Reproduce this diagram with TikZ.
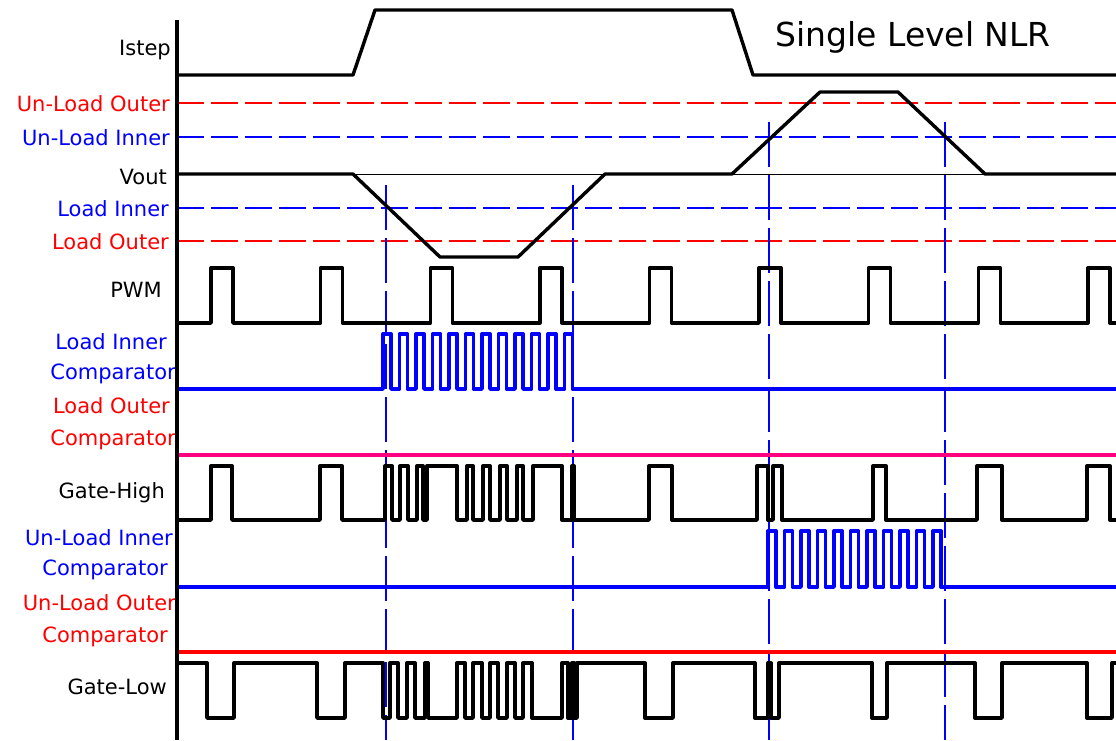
\documentclass[tikz,border=0pt]{standalone}
\usepackage{fontspec}
\setmainfont{DejaVu Sans}
\usetikzlibrary{calc}
\definecolor{cmppink}{RGB}{255,0,128}

\begin{document}
\begin{tikzpicture}[x=1pt,y=-1pt,
  wave/.style={line width=3.4pt,line join=round},
  lvl/.style={line width=1.2pt,dash pattern=on 27pt off 7pt},
  cross/.style={blue,line width=1.2pt,dash pattern=on 45pt off 8pt},
  lbl/.style={anchor=east,inner sep=0pt,font=\fontsize{21}{24}\selectfont}]
  \useasboundingbox (0,0) rectangle (1116,740);

  \node[lbl] (istep) at (171,50) {Istep};
  \node[lbl,red] (ulo) at (170,104) {Un-Load Outer};
  \node[lbl,blue] (uli) at (170,138) {Un-Load Inner};
  \node[lbl] (vout) at (167,177) {Vout};
  \node[lbl,blue] (li) at (169,209) {Load Inner};
  \node[lbl,red] (lo) at (169,242) {Load Outer};
  \node[lbl] (pwm) at (162,290) {PWM};
  \node[lbl,blue] (licmp) at (167,342) {Load Inner};
  \node[lbl,blue] (licmpb) at (176,374) {Comparator};
  \node[lbl,red] (locmp) at (170,406) {Load Outer};
  \node[lbl,red] (locmpb) at (176,440) {Comparator};
  \node[lbl] (gh) at (165,493) {Gate-High};
  \node[lbl,blue] (ulicmp) at (173,538) {Un-Load Inner};
  \node[lbl,blue] (ulicmpb) at (168,570) {Comparator};
  \node[lbl,red] (ulocmp) at (176,603) {Un-Load Outer};
  \node[lbl,red] (ulocmpb) at (168,637) {Comparator};
  \node[lbl] (gl) at (167,687) {Gate-Low};
  \node (title) at (913,37) {\fontsize{33}{36}\selectfont Single Level NLR};

\draw[lvl,red] (177,103) -- (1116,103);
\draw[lvl,blue] (177,137) -- (1116,137);
\draw[line width=1pt] (177,174) -- (1116,174);
\draw[lvl,blue] (177,208) -- (1116,208);
\draw[lvl,red] (177,241) -- (1116,241);
\foreach \xc/\yc in {386/185,573/185,769/122,945/122}
  \draw[cross] (\xc,\yc) -- (\xc,740);

\draw[wave] (177,75) -- (353,75) -- (375,10) -- (732,10) -- (753,75) -- (1116,75);
\draw[wave] (177,174) -- (353,174) -- (440,257) -- (518,257) -- (605,174) -- (732,174)
  -- (820,92) -- (898,92) -- (985,174) -- (1116,174);
\draw[wave] (177,323) foreach \s in {211,320.6,430.2,539.8,649.4,759,868.6,978.2,1087.8}
  { -| (\s,268) -| (\s+22,323) } -- (1116,323);
\draw[wave,blue] (177,389) foreach \k in {0,...,11}
  { -| ({383+16.5*\k},334) -| ({391+16.5*\k},389) } -- (1116,389);
\draw[wave,cmppink] (177,455) -- (1116,455);
\draw[wave] (177,520) foreach \a/\b in {211/232,320/342,385/392,400/408,417/423,427/457,
  467/473,483/490,500/507,517/523,533/562,572/574,649/672,757/768,773/782,873/886,
  977/1002,1087/1110} { -| (\a,466) -| (\b,520) } -- (1116,520);
\draw[wave,blue] (177,587) foreach \k in {0,...,10}
  { -| ({768+16.5*\k},531) -| ({776+16.5*\k},587) } -- (1116,587);
\draw[wave,red] (177,652) -- (1116,652);
\draw[wave] (177,663) foreach \a/\b in {207/234,317/345,383/390,398/407,415/425,428/457,
  465/473,482/490,498/507,515/523,532/562,568/572,574/577,645/673,755/768,771/779,
  872/887,975/1002,1087/1112} { -| (\a,718) -| (\b,663) } -- (1116,663);

\draw[line width=4pt] (177,20) -- (177,740);
\end{tikzpicture}
\end{document}
